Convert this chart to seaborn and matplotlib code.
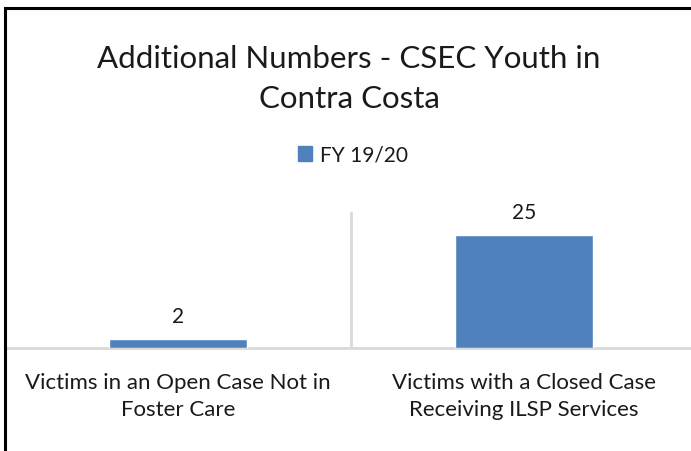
import matplotlib
matplotlib.use("Agg")
import matplotlib.pyplot as plt
from matplotlib.patches import Rectangle, Patch
import seaborn as sns
import pandas as pd

categories = ["Victims in an Open Case Not in\nFoster Care",
              "Victims with a Closed Case\nReceiving ILSP Services"]
values = [2, 25]
series_name = "FY 19/20"
title = "Additional Numbers - CSEC Youth in\nContra Costa"

bar_color = "#4F81BD"
grid_color = "#D9D9D9"
text_color = "#1A1A1A"

sns.set_theme(style="white")
plt.rcParams["font.family"] = ["Lato", "DejaVu Sans"]

df = pd.DataFrame({"category": categories, "value": values})

W, H = 691, 451
fig = plt.figure(figsize=(W / 100, H / 100), dpi=100)
fig.patch.set_facecolor("white")

# chart frame, cut off at right and bottom like the screenshot
fig.patches.append(Rectangle((5 / W, -0.1), 1.2, 1 - 8 / H + 0.1,
                             transform=fig.transFigure, fill=False,
                             edgecolor="black", linewidth=2.2))

ax = fig.add_axes([5 / W, 1 - 348 / H, 692 / W, 136 / H])
sns.barplot(data=df, x="category", y="value", color=bar_color,
            width=0.4, saturation=1, ax=ax)
ax.set_ylim(0, 30)
ax.set_xlim(-0.5, 1.5)
for s in ax.spines.values():
    s.set_visible(False)
ax.set_yticks([])
ax.set_xlabel("")
ax.set_ylabel("")
ax.axhline(0, color=grid_color, linewidth=2, clip_on=False, zorder=0)
ax.axvline(0.5, color=grid_color, linewidth=2, zorder=0)
ax.tick_params(axis="x", length=0, pad=18, labelsize=16, labelcolor=text_color)
for lbl in ax.get_xticklabels():
    lbl.set_linespacing(1.45)

for i, v in enumerate(values):
    ax.text(i, v + 2.6, str(v), ha="center", va="bottom", fontsize=15,
            color=text_color)

fig.text(349 / W, 1 - 79 / H, title, ha="center", va="center",
         fontsize=22.5, color=text_color, linespacing=1.55)

fig.legend(handles=[Patch(color=bar_color, label=series_name)],
           loc="center", bbox_to_anchor=(353 / W, 1 - 155 / H),
           frameon=False, fontsize=15, handlelength=0.7, handleheight=0.7,
           handletextpad=0.4, labelcolor=text_color)

fig.savefig("out.png", dpi=100)
